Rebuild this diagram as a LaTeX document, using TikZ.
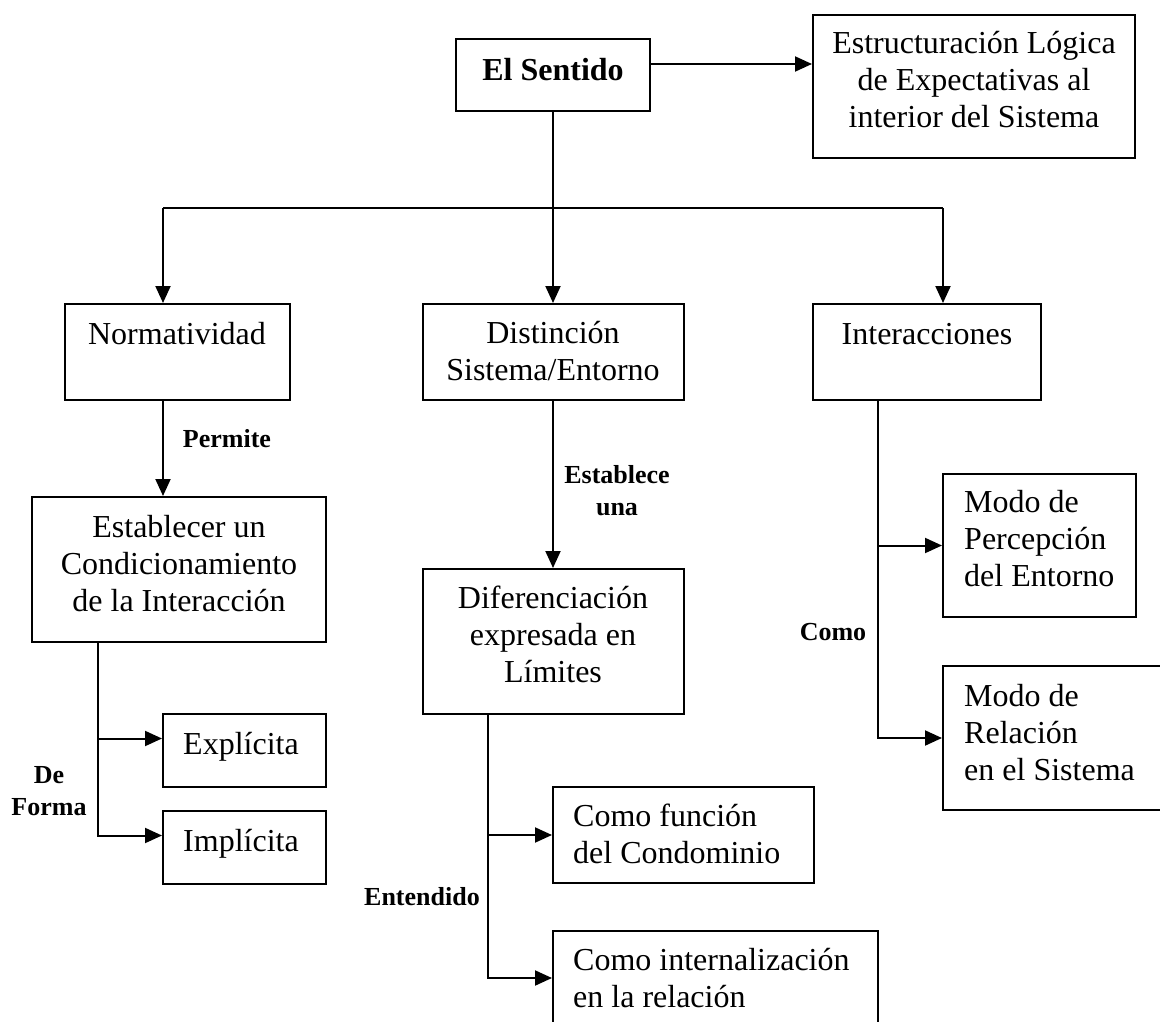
\documentclass[tikz,border=0pt]{standalone}
\usepackage{fontspec}
\setmainfont{Liberation Serif}
\usetikzlibrary{arrows.meta,fit,calc}
\begin{document}
\begin{tikzpicture}[x=1pt,y=-1pt,
  box/.style={draw, line width=2pt, inner sep=0pt, rectangle},
  link/.style={line width=2pt},
  arr/.style={link, -{Triangle[length=17pt,width=15pt]}},
  txt/.style={font=\fontsize{32}{37}\selectfont, inner sep=0pt, anchor=north, align=center},
  txl/.style={txt, anchor=north west, align=left},
  lbl/.style={font=\fontsize{26}{32}\selectfont\bfseries, inner sep=0pt, anchor=north, align=center}]

% page frame
\useasboundingbox (0,0) rectangle (1160,1022);
\fill[white] (0,0) rectangle (1160,1022);
\clip (0,0) rectangle (1160,1022);

% boxes
\node[box, fit={(456,39) (650,111)}] (sent) {};
\node[box, fit={(813,15) (1135,158)}] (estr) {};
\node[box, fit={(65,304) (290,400)}] (norm) {};
\node[box, fit={(423,304) (684,400)}] (dist) {};
\node[box, fit={(813,304) (1041,400)}] (inter) {};
\node[box, fit={(32,497) (326,642)}] (estab) {};
\node[box, fit={(423,569) (684,714)}] (dif) {};
\node[box, fit={(163,714) (326,787)}] (expl) {};
\node[box, fit={(163,811) (326,884)}] (impl) {};
\node[box, fit={(943,474) (1136,617)}] (perc) {};
\node[box, fit={(943,666) (1180,810)}] (rel) {};
\node[box, fit={(553,787) (814,883)}] (func) {};
\node[box, fit={(553,931) (878,1040)}] (intl) {};

% box texts
\node[txt] (sent-t) at (553,54) {\strut\bfseries El Sentido};
\node[txt] (estr-t) at (974,27) {\strut Estructuración Lógica\\\strut de Expectativas al\\\strut interior del Sistema};
\node[txt] (norm-t) at (177,318) {\strut Normatividad};
\node[txt] (dist-t) at (553,317) {\strut Distinción\\\strut Sistema/Entorno};
\node[txt] (inter-t) at (927,318) {\strut Interacciones};
\node[txt] (estab-t) at (179,511) {\strut Establecer un\\\strut Condicionamiento\\\strut de la Interacción};
\node[txt] (dif-t) at (553,582) {\strut Diferenciación\\\strut expresada en\\\strut Límites};
\node[txt] (expl-t) at (241,728) {\strut Explícita};
\node[txt] (impl-t) at (241,825) {\strut Implícita};
\node[txl] (perc-t) at (964,486) {\strut Modo de\\\strut Percepción\\\strut del Entorno};
\node[txl] (rel-t) at (964,680) {\strut Modo de\\\strut Relación\\\strut en el Sistema};
\node[txl] (func-t) at (573,800) {\strut Como función\\\strut del Condominio};
\node[txl] (intl-t) at (573,944) {\strut Como internalización\\\strut en la relación};

% connector labels
\node[lbl] (permite) at (227,425) {\strut Permite};
\node[lbl] (establece) at (617,461) {\strut Establece\\\strut una};
\node[lbl] (deforma) at (49,761) {\strut De\\\strut Forma};
\node[lbl] (como) at (833,618) {\strut Como};
\node[lbl] (entendido) at (422,883) {\strut Entendido};

% connector junctions
\coordinate (hubL) at (163,208);
\coordinate (hub) at (sent.south |- hubL);
\coordinate (hubR) at (943,208);
\coordinate (spA) at (98,0);
\coordinate (spB) at (488,0);
\coordinate (spC) at (878,0);
\coordinate (toE) at ($(sent.east)+(0,-11)$);
\coordinate (intlIn) at ($(intl.north west)+(0,48)$);

% connectors
\draw[arr] (toE) -- (toE -| estr.west);
\draw[link] (sent.south) -- (hub);
\draw[link] (hubL) -- (hubR);
\draw[arr] (hubL) -- (hubL |- norm.north);
\draw[arr] (hub) -- (hub |- dist.north);
\draw[arr] (hubR) -- (hubR |- inter.north);
\draw[arr] (hubL |- norm.south) -- (hubL |- estab.north);
\draw[arr] (hub |- dist.south) -- (hub |- dif.north);
\draw[arr] (spA |- estab.south) |- ($(expl.west)+(0,-12)$);
\draw[arr] (spA |- estab.south) |- ($(impl.west)+(0,-12)$);
\draw[arr] (spB |- dif.south) |- (func.west);
\draw[arr] (spB |- dif.south) |- (intlIn);
\draw[arr] (spC |- inter.south) |- (perc.west);
\draw[arr] (spC |- inter.south) |- (rel.west);
\end{tikzpicture}
\end{document}
